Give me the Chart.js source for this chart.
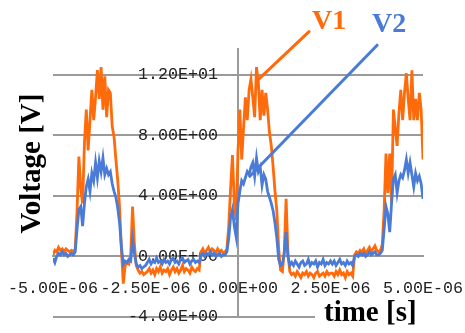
<!DOCTYPE html>
<html>
<head>
<meta charset="utf-8">
<script src="https://cdn.jsdelivr.net/npm/chart.js@4/dist/chart.umd.min.js"></script>
<style>
  html, body { margin: 0; padding: 0; background: #fff; }
  #wrap { width: 465px; height: 333px; }
</style>
</head>
<body>
<div id="wrap"><canvas id="c" width="465" height="333"></canvas></div>
<script>
// Sampling grid of the scope capture (microseconds)
const tStartUs = -5;
const tStepUs = 0.05;

// Channel 1 voltage [V]
const v1 = [
  0.1, 0.4, 0.3, 0.6, 0.4, 0.5, 0.3, 0.5, 0.4, 0.3,
  0.4, 0.3, 0.5, 3.0, 6.6, 4.5, 3.5, 7.5, 9.7, 7.0,
  9.0, 11.0, 9.0, 10.5, 12.3, 10.4, 12.5, 9.7, 11.9, 9.2,
  11.0, 10.8, 8.6, 7.9, 6.4, 5.0, 3.2, 0.4, -1.8, -0.6,
  -0.4, -0.5, 0.0, 3.3, 0.8, -0.6, -0.9, -1.1, -1.0, -1.2,
  -1.1,
  -1.0, -0.8, -1.1, -0.9, -1.2, -0.8, -1.0, -0.7, -1.1, -0.9,
  -1.0, -0.8, -1.2, -0.9, -0.7, -1.0, -0.8, -1.1, -0.9, -0.6,
  -1.0, -0.8, -0.9, -1.1, -0.7, -0.9, -1.0, -0.8, -0.9,
  0.3, 0.5, 0.2, 0.4, 0.6, 0.3, 0.5, 0.4, 0.2, 0.5, 0.3, 0.4, 0.2, 0.3,
  0.5, 2.0, 4.5, 6.7, 3.5, 2.4, 7.0, 9.7, 6.4, 8.5,
  10.5, 9.0, 11.0, 11.7, 10.5, 9.2, 12.5, 11.5, 9.0, 11.0,
  9.3, 10.8, 9.7, 8.2, 7.3, 5.9, 4.3, 3.0, 0.5, -0.9,
  -1.0, 0.3, 3.8, 0.2, -1.0,
  -1.2, -1.1, -1.3, -1.0, -1.2, -1.4, -1.1, -1.2, -1.0, -1.3, -1.1,
  -1.2, -1.4, -1.1, -1.0, -1.3, -1.2, -1.1, -1.3, -1.0, -1.2, -1.1,
  -1.1, -1.3, -1.0, -1.2, -0.9, -1.2, -1.1, -1.4, -1.0, -1.2, -1.1, -1.3,
  0.1,
  0.3, 0.2, 0.4, 0.3, 0.5, 0.2, 0.4, 0.6, 0.3, 0.5, 0.7, 0.4, 0.3,
  0.4, 0.8, 3.1, 6.8, 4.2, 6.8, 3.5, 9.7, 8.5, 7.3,
  9.5, 11.0, 9.0, 10.8, 12.1, 10.4, 9.0, 12.3, 9.0, 10.4,
  9.0, 10.8, 9.7, 6.4
];

// Channel 2 voltage [V]
const v2 = [
  -0.1, -0.4, 0.0, 0.2, 0.1, 0.3, 0.1, 0.2, 0.0, 0.1,
  0.2, 0.1, 0.3, 1.8, 3.1, 3.3, 2.0, 3.5, 4.6, 5.1,
  4.3, 5.5, 5.0, 6.2, 5.2, 6.3, 5.6, 6.5, 5.4, 5.8,
  5.4, 5.6, 4.8, 4.3, 3.9, 3.2, 2.2, 0.6, -0.5, -0.3,
  -0.4, -0.2, -0.3, 1.1, 0.2, -0.5, -0.7, -0.6, -0.8, -0.7,
  -0.6,
  -0.4, -0.2, -0.5, -0.3, -0.4, -0.1, -0.4, -0.3, -0.5, -0.2,
  -0.4, -0.3, -0.5, -0.2, -0.1, -0.4, -0.3, -0.5, -0.2, -0.1,
  -0.4, -0.3, -0.2, -0.5, -0.3, -0.2, -0.4, -0.3, -0.4,
  0.1, 0.2, 0.0, 0.2, 0.1, 0.3, 0.1, 0.2, 0.0, 0.1, 0.2, 0.0, 0.1, 0.1,
  0.3, 1.2, 2.6, 3.1, 2.0, 1.3, 3.5, 4.3, 5.0, 4.8,
  5.2, 5.6, 5.4, 5.9, 6.2, 5.3, 6.5, 5.6, 5.9, 4.7,
  5.4, 5.1, 4.3, 3.9, 3.5, 3.0, 2.2, 1.2, -0.2, -0.6,
  -0.5, 0.2, 1.6, 0.0, -0.6,
  -0.4, -0.6, -0.3, -0.5, -0.7, -0.4, -0.3, -0.6, -0.5, -0.2, -0.6,
  -0.4, -0.5, -0.3, -0.7, -0.4, -0.5, -0.2, -0.6, -0.4, -0.5, -0.3,
  -0.5, -0.3, -0.6, -0.4, -0.2, -0.5, -0.4, -0.6, -0.3, -0.5, -0.4, -0.6,
  0.0,
  0.1, 0.0, 0.2, 0.1, 0.2, 0.0, 0.1, 0.3, 0.1, 0.2, 0.3, 0.1, 0.1,
  0.2, 0.4, 1.8, 3.3, 2.8, 1.6, 3.5, 5.1, 5.4, 4.2,
  5.0, 5.4, 5.2, 5.7, 6.4, 5.5, 6.2, 5.4, 4.6, 5.5,
  5.0, 5.3, 4.8, 3.8
];

// Axis ticks
const xTickValues = [-5e-6, -2.5e-6, 0, 2.5e-6, 5e-6];
const xTickLabels = ['-5.00E-06', '-2.50E-06', '0.00E+00', '2.50E-06', '5.00E-06'];
const yTickValues = [-4, 0, 4, 8, 12];
const yTickLabels = ['-4.00E+00', '0.00E+00', '4.00E+00', '8.00E+00', '1.20E+01'];

// Time stamps in seconds
const timeS = v1.map((_, i) => (tStartUs + i * tStepUs) * 1e-6);

const ORANGE = '#FF6A0A';
const BLUE = '#4A7BD6';
const GRID = '#9a9a9a';

// Callout labels with leader lines (data coordinates: seconds, volts)
const callouts = [
  { text: 'V1', color: ORANGE, textAt: [2.0e-6, 15.0], from: [1.92e-6, 14.85], to: [0.51e-6, 11.6] },
  { text: 'V2', color: BLUE, textAt: [3.62e-6, 14.85], from: [3.76e-6, 13.95], to: [0.32e-6, 5.3] }
];

const decorations = {
  id: 'decorations',
  beforeDraw(chart) {
    const c = chart.ctx;
    c.save();
    c.fillStyle = '#fff';
    c.fillRect(0, 0, chart.width, chart.height);
    c.restore();
  },
  afterDraw(chart) {
    const c = chart.ctx;
    const xs = chart.scales.x, ys = chart.scales.y;
    c.save();
    // leader lines and series names
    c.lineCap = 'round';
    callouts.forEach(o => {
      c.strokeStyle = o.color;
      c.lineWidth = 3;
      c.beginPath();
      c.moveTo(xs.getPixelForValue(o.from[0]), ys.getPixelForValue(o.from[1]));
      c.lineTo(xs.getPixelForValue(o.to[0]), ys.getPixelForValue(o.to[1]));
      c.stroke();
      c.fillStyle = o.color;
      c.font = 'bold 28px "Liberation Serif", "Times New Roman", serif';
      c.textAlign = 'left';
      c.textBaseline = 'alphabetic';
      c.fillText(o.text, xs.getPixelForValue(o.textAt[0]), ys.getPixelForValue(o.textAt[1]));
    });
    // axis titles
    c.fillStyle = '#000';
    c.font = 'bold 29px "Liberation Serif", "Times New Roman", serif';
    c.save();
    c.translate(40, 163.5);
    c.rotate(-Math.PI / 2);
    c.textAlign = 'center';
    c.textBaseline = 'alphabetic';
    c.fillText('Voltage [V]', 0, 0);
    c.restore();
    c.fillStyle = '#fff';
    c.fillRect(315, 300, 150, 33);
    c.fillStyle = '#000';
    c.textAlign = 'left';
    c.textBaseline = 'alphabetic';
    c.fillText('time [s]', 324, 321);
    c.restore();
  }
};

const tickFont = { family: '"Liberation Mono", "DejaVu Sans Mono", monospace', size: 16.7 };
// axes sit inside the plot, so they take no room of their own
const noSpace = (dim) => (scale) => {
  scale[dim] = 0;
  scale.paddingLeft = scale.paddingRight = scale.paddingTop = scale.paddingBottom = 0;
};

new Chart(document.getElementById('c'), {
  type: 'line',
  data: {
    datasets: [
      { label: 'V1', data: timeS.map((t, i) => ({ x: t, y: v1[i] })), borderColor: ORANGE, borderWidth: 2.8, pointRadius: 0, tension: 0, order: 1 },
      { label: 'V2', data: timeS.map((t, i) => ({ x: t, y: v2[i] })), borderColor: BLUE, borderWidth: 2.8, pointRadius: 0, tension: 0, order: 0 }
    ]
  },
  options: {
    responsive: false,
    animation: false,
    events: [],
    layout: { padding: { left: 53, right: 42, top: 49, bottom: 16 } },
    plugins: { legend: { display: false }, tooltip: { enabled: false } },
    scales: {
      x: {
        type: 'linear',
        position: { y: 0 },
        min: -5e-6,
        max: 5e-6,
        afterFit: noSpace('height'),
        afterBuildTicks: axis => { axis.ticks = xTickValues.map(v => ({ value: v })); },
        ticks: {
          autoSkip: false, maxRotation: 0, minRotation: 0, padding: 22,
          font: tickFont, color: '#222',
          callback: (v, i) => xTickLabels[i]
        },
        grid: { display: false, drawTicks: false },
        border: { display: true, color: GRID, width: 2 }
      },
      y: {
        type: 'linear',
        position: { x: 0 },
        min: -4,
        max: 13.7,
        afterFit: noSpace('width'),
        afterBuildTicks: axis => { axis.ticks = yTickValues.map(v => ({ value: v })); },
        ticks: { display: false },
        grid: { color: GRID, lineWidth: 2, drawTicks: false },
        border: { display: true, color: GRID, width: 2 }
      },
      // value labels of the voltage axis, set just left of the vertical axis line
      yLabels: {
        type: 'linear',
        axis: 'y',
        position: { x: -0.54e-6 },
        min: -4,
        max: 13.7,
        afterFit: noSpace('width'),
        afterBuildTicks: axis => { axis.ticks = yTickValues.map(v => ({ value: v })); },
        ticks: {
          font: tickFont, color: '#222',
          callback: (v, i) => yTickLabels[i]
        },
        grid: { display: false, drawTicks: false },
        border: { display: false }
      }
    }
  },
  plugins: [decorations]
});
</script>
</body>
</html>
